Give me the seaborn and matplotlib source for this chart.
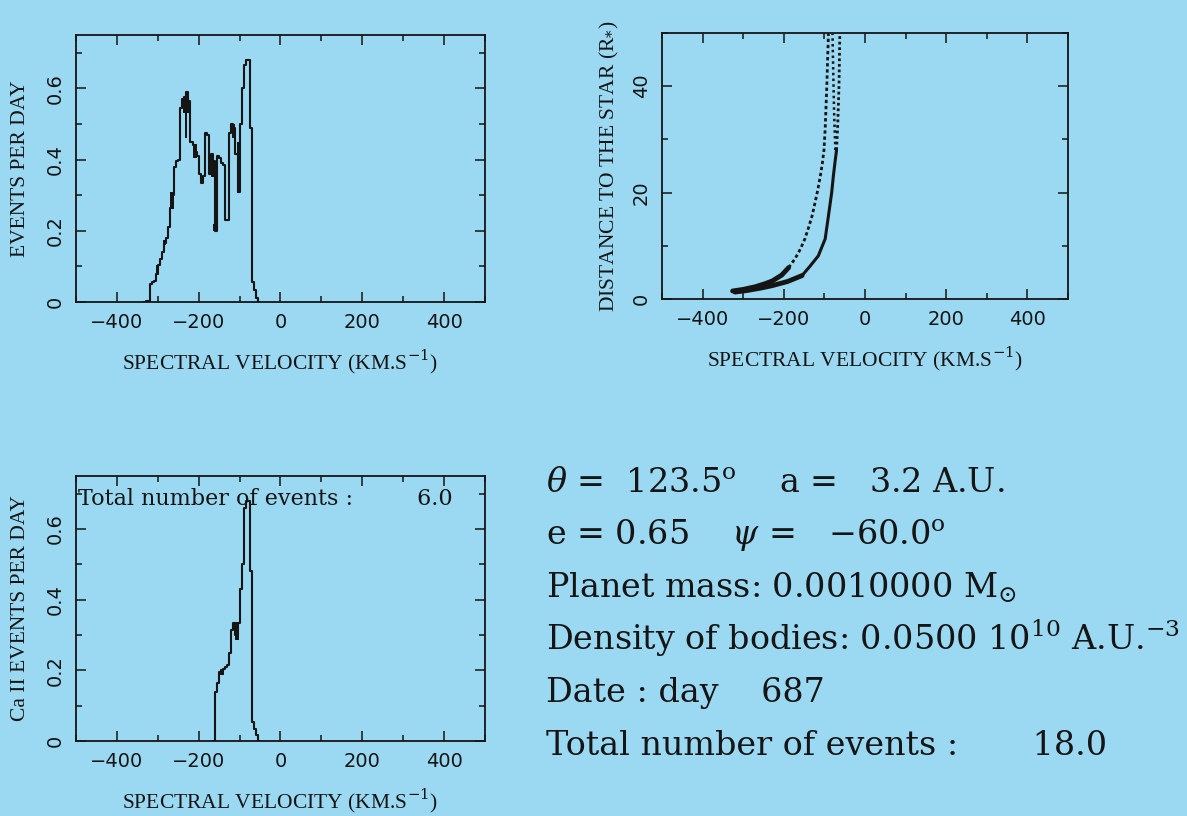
import numpy as np
import pandas as pd
import matplotlib.pyplot as plt
from matplotlib.ticker import MultipleLocator, FixedLocator, FixedFormatter
import seaborn as sns

# --- data ---
# top-left: events per day, 5 km/s bins (left edges)
vel_left = np.arange(-335, -50, 5)
events_all = [0.0, 0.004, 0.004, 0.05, 0.055, 0.06, 0.08, 0.105, 0.12, 0.14, 0.165,
              0.18, 0.21, 0.265, 0.30, 0.38, 0.395, 0.40, 0.545, 0.57, 0.575,
              0.59, 0.565, 0.45, 0.44, 0.42, 0.41, 0.36, 0.335, 0.355, 0.475,
              0.47, 0.36, 0.415, 0.395, 0.20, 0.41, 0.405, 0.39, 0.385, 0.23,
              0.23, 0.475, 0.50, 0.49, 0.415, 0.31, 0.50, 0.60, 0.665, 0.68,
              0.68, 0.49, 0.056, 0.033, 0.01, 0.0]
# dense (over-plotted) blocks in the top-left histogram
blk_v0 = [-304, -288, -270, -239, -233, -215, -170, -165, -119, -107]
blk_v1 = [-300, -280, -260, -223, -228, -204, -163, -159, -111, -102]
blk_lo = [0.077, 0.16, 0.26, 0.53, 0.46, 0.405, 0.35, 0.20, 0.46, 0.307]
blk_hi = [0.105, 0.175, 0.31, 0.575, 0.56, 0.443, 0.415, 0.22, 0.50, 0.45]

# bottom-left: Ca II events per day
ca_left = np.arange(-165, -50, 5)
events_ca = [0.0, 0.14, 0.165, 0.195, 0.20, 0.205, 0.21, 0.215, 0.25, 0.315, 0.335,
             0.30, 0.335, 0.43, 0.50, 0.66, 0.68, 0.68, 0.48, 0.054, 0.035, 0.017, 0.0]
ca_blk_v0 = [-148, -112]
ca_blk_v1 = [-138, -101]
ca_blk_lo = [0.186, 0.286]
ca_blk_hi = [0.20, 0.338]

# top-right: distance to the star vs spectral velocity
outer_v = [-326, -300, -270, -245, -228, -205, -188, -172, -159, -148, -139,
           -130, -123, -116, -110, -105, -101, -98, -96, -94, -92, -90]
outer_r = [1.5, 1.8, 2.3, 2.9, 3.4, 4.5, 5.9, 7.6, 9.4, 11.3, 13.4,
           15.7, 18.1, 20.6, 23.1, 25.5, 28.0, 32, 36, 40, 45, 49.8]
inner_v = [-320, -290, -260, -229, -190, -155, -135, -115, -98, -90, -82,
           -78, -74, -70, -67, -64, -62]
inner_r = [1.3, 1.6, 2.0, 2.5, 3.3, 4.4, 6.2, 8.1, 11.3, 15.6, 20.0,
           23.0, 25.6, 28.0, 33, 40, 49.8]
middle_v = [-73, -76, -78, -80]
middle_r = [28, 35, 42, 49.8]

info_lines = [
    r"$\theta$ =  123.5$^{\mathrm{o}}$    a =   3.2 A.U.",
    r"e = 0.65    $\psi$ =   −60.0$^{\mathrm{o}}$",
    r"Planet mass: 0.0010000 M$_{\odot}$",
    r"Density of bodies: 0.0500 10$^{10}$ A.U.$^{-3}$",
    "Date : day    687",
    "Total number of events :       18.0",
]

bg = "#9bd8f1"
ink = "#151515"

sns.set_theme(style="ticks", rc={"figure.facecolor": bg, "axes.facecolor": bg,
                                 "savefig.facecolor": bg})
plt.rcParams["mathtext.fontset"] = "dejavuserif"
plt.rcParams["axes.edgecolor"] = ink
plt.rcParams["axes.linewidth"] = 1.3

fig = plt.figure(figsize=(11.87, 8.16), dpi=100)
ax1 = fig.add_axes([0.0640, 0.6299, 0.3446, 0.3272])
ax2 = fig.add_axes([0.5577, 0.6336, 0.3420, 0.3260])
ax3 = fig.add_axes([0.0640, 0.0919, 0.3446, 0.3248])

xlabel = r"SPECTRAL VELOCITY (KM.S$^{-1}$)"
label_font = dict(family="Liberation Serif", fontsize=15.5, color=ink)


def style_axes(ax, ylim, yticks, ylabels, yminor, ylabel, label_x=-0.113):
    ax.set_xlim(-500, 500)
    ax.set_ylim(*ylim)
    ax.xaxis.set_major_locator(FixedLocator([-400, -200, 0, 200, 400]))
    ax.xaxis.set_major_formatter(FixedFormatter(["−400", "−200", "0", "200", "400"]))
    ax.xaxis.set_minor_locator(MultipleLocator(100))
    ax.yaxis.set_major_locator(FixedLocator(yticks))
    ax.yaxis.set_major_formatter(FixedFormatter(ylabels))
    ax.yaxis.set_minor_locator(MultipleLocator(yminor))
    ax.tick_params(which="both", direction="in", top=True, right=True,
                   color=ink, width=1.1, labelcolor=ink)
    ax.tick_params(which="major", length=7, pad=8, labelsize=14)
    ax.tick_params(which="minor", length=4)
    for lab in ax.get_xticklabels() + ax.get_yticklabels():
        lab.set_family("DejaVu Sans")
    for lab in ax.get_yticklabels():
        lab.set_rotation(90)
        lab.set_va("center")
    for sp in ax.spines.values():
        sp.set_visible(True)
        sp.set_linewidth(1.3)
        sp.set_color(ink)
    ax.set_xlabel(xlabel, labelpad=11, **label_font)
    ax.set_ylabel(ylabel, **label_font)
    ax.yaxis.set_label_coords(label_x, 0.5)


def step_hist(ax, left, vals, v0, v1, lo, hi):
    edges = list(np.append(left, left[-1] + 5).astype(float))
    df = pd.DataFrame({"v": left + 2.5, "w": vals})
    sns.histplot(data=df, x="v", weights="w", bins=edges, element="step",
                 fill=False, color=ink, linewidth=1.5, ax=ax)
    ax.bar(v0, np.subtract(hi, lo), bottom=lo, width=np.subtract(v1, v0),
           align="edge", color=ink, linewidth=0)


# top-left histogram
step_hist(ax1, vel_left, events_all, blk_v0, blk_v1, blk_lo, blk_hi)
style_axes(ax1, (0, 0.75), [0, 0.2, 0.4, 0.6], ["0", "0.2", "0.4", "0.6"], 0.1,
           "EVENTS PER DAY")

# bottom-left histogram (Ca II)
step_hist(ax3, ca_left, events_ca, ca_blk_v0, ca_blk_v1, ca_blk_lo, ca_blk_hi)
style_axes(ax3, (0, 0.75), [0, 0.2, 0.4, 0.6], ["0", "0.2", "0.4", "0.6"], 0.1,
           "Ca II EVENTS PER DAY")
ax3.text(0.005, 0.892, "Total number of events :         6.0", transform=ax3.transAxes,
         family="DejaVu Serif", fontsize=16, color=ink, va="baseline", ha="left")

# top-right: distance vs velocity
ov, orr = np.array(outer_v), np.array(outer_r)
iv, ir = np.array(inner_v), np.array(inner_r)
low_o = orr <= 6
up_o = orr >= 5.9
low_i = ir <= 4.5
mid_i = (ir >= 4.4) & (ir <= 28)
up_i = ir >= 28
sns.lineplot(x=ov[low_o], y=orr[low_o], sort=False, estimator=None, color=ink,
             linewidth=3.5, ax=ax2)
sns.lineplot(x=ov[up_o], y=orr[up_o], sort=False, estimator=None, color=ink,
             linewidth=2.0, linestyle=(0, (1.2, 1.0)), ax=ax2)
sns.lineplot(x=iv[low_i], y=ir[low_i], sort=False, estimator=None, color=ink,
             linewidth=3.5, ax=ax2)
sns.lineplot(x=iv[mid_i], y=ir[mid_i], sort=False, estimator=None, color=ink,
             linewidth=2.2, ax=ax2)
sns.lineplot(x=iv[up_i], y=ir[up_i], sort=False, estimator=None, color=ink,
             linewidth=2.0, linestyle=(0, (1.0, 1.0)), ax=ax2)
sns.lineplot(x=middle_v, y=middle_r, sort=False, estimator=None, color=ink,
             linewidth=1.8, linestyle=(0, (1.0, 1.3)), ax=ax2)
style_axes(ax2, (0, 50), [0, 20, 40], ["0", "20", "40"], 10,
           r"DISTANCE TO THE STAR (R$_{*}$)", label_x=-0.10)

# parameter block (baselines in pixels from the top)
base_px, step_px = 492, 52.6
for i, line in enumerate(info_lines):
    fig.text(546 / 1187, (816 - base_px - i * step_px) / 816, line,
             family="DejaVu Serif", fontsize=24, color=ink,
             va="baseline", ha="left")

fig.savefig("out.png", dpi=100)
